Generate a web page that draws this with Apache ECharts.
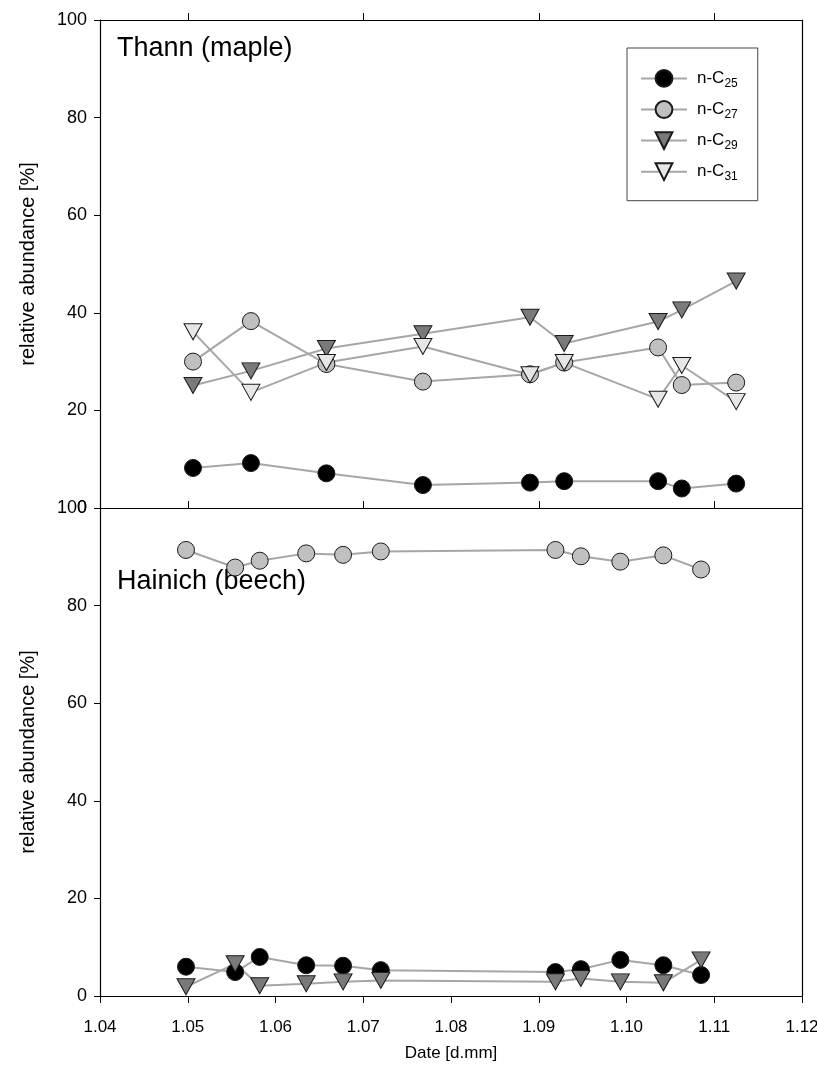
<!DOCTYPE html>
<html>
<head>
<meta charset="utf-8">
<script src="https://cdn.jsdelivr.net/npm/echarts@6/dist/echarts.min.js"></script>
<style>html,body{margin:0;padding:0;background:#fff;}#c{width:817px;height:1077px;}</style>
</head>
<body>
<div id="c"></div>
<script>
// ---- data ----
const seriesNames = ['n-C25', 'n-C27', 'n-C29', 'n-C31'];
const xTicks = [1.04, 1.05, 1.06, 1.07, 1.08, 1.09, 1.10, 1.11, 1.12];
const topMajorTicks = [1.05, 1.07, 1.09, 1.11];
const yTicks = [0, 20, 40, 60, 80, 100];

// Thann (maple)
const xTop   = [1.0506, 1.0572, 1.0658, 1.0768, 1.0890, 1.0929, 1.1036, 1.1063, 1.1125];
const topC25 = [8.2, 9.2, 7.1, 4.7, 5.2, 5.5, 5.5, 4.0, 5.0];
const topC27 = [30.0, 38.3, 29.5, 25.9, 27.4, 29.8, 32.9, 25.2, 25.7];
const topC29 = [25.1, 28.1, 32.7, 35.7, 39.1, 33.7, 38.2, 40.6, 46.5];
const topC31 = [36.1, 23.7, 29.8, 33.1, 27.3, 29.8, 22.3, 29.2, 21.8];

// Hainich (beech)
const xBot   = [1.0498, 1.0554, 1.0582, 1.0635, 1.0677, 1.0720, 1.0919, 1.0948, 1.0993, 1.1042, 1.1085];
const botC25 = [6.0, 4.9, 8.0, 6.3, 6.2, 5.3, 4.9, 5.5, 7.4, 6.3, 4.3];
const botC27 = [91.4, 87.8, 89.2, 90.7, 90.4, 91.1, 91.4, 90.1, 89.0, 90.3, 87.4];
const botC29 = [1.9, 6.6, 2.1, 2.5, 2.9, 3.2, 2.9, 3.6, 2.9, 2.7, 7.4];

// ---- styles ----
const FONT = '"Liberation Sans", Arial, sans-serif';
const LINE = '#a6a6a6';
const styles = {
  'n-C25': { symbol: 'circle', size: 17, rotate: 0, fill: '#000000' },
  'n-C27': { symbol: 'circle', size: 17, rotate: 0, fill: '#c0c0c0' },
  'n-C29': { symbol: 'triangle', size: [18, 16], rotate: 180, fill: '#7a7a7a' },
  'n-C31': { symbol: 'triangle', size: [18, 16], rotate: 180, fill: '#e6e6e6' }
};
function zip(xs, ys) { return xs.map((x, i) => [x, ys[i]]); }
function mk(name, xs, ys, xi, yi) {
  const s = styles[name];
  return {
    name, type: 'line', xAxisIndex: xi, yAxisIndex: yi,
    data: zip(xs, ys),
    symbol: s.symbol, symbolSize: s.size, symbolRotate: s.rotate,
    showAllSymbol: true,
    lineStyle: { color: LINE, width: 2 },
    itemStyle: { color: s.fill, borderColor: '#1a1a1a', borderWidth: 1 },
    emphasis: { disabled: true },
    animation: false
  };
}
const axisLine = { show: true, onZero: false, lineStyle: { color: '#000', width: 1.2 } };
const baseX = { type: 'value', min: 1.04, max: 1.12, splitLine: { show: false }, axisLine };
const baseY = { type: 'value', min: 0, max: 100, interval: 20, splitLine: { show: false }, axisLine };
const yName = {
  name: 'relative abundance [%]', nameLocation: 'middle', nameGap: 62,
  nameTextStyle: { color: '#000', fontSize: 20, fontFamily: FONT }
};
const yLeftTicks = {
  axisTick: { show: true, inside: false, length: 6, lineStyle: { color: '#000' } },
  axisLabel: { show: true, color: '#000', fontSize: 18, margin: 13, fontFamily: FONT }
};

const chart = echarts.init(document.getElementById('c'), null, { renderer: 'canvas' });
chart.setOption({
  backgroundColor: '#fff',
  animation: false,
  textStyle: { fontFamily: FONT },
  grid: [
    { left: 100, right: 15, top: 20, height: 488, outerBoundsMode: 'none', containLabel: false },
    { left: 100, right: 15, top: 508, height: 488, outerBoundsMode: 'none', containLabel: false }
  ],
  xAxis: [
    Object.assign({}, baseX, { gridIndex: 0, position: 'bottom', axisLabel: { show: false },
      axisTick: { show: true, inside: true, length: 7, customValues: topMajorTicks, lineStyle: { color: '#000' } } }),
    Object.assign({}, baseX, { gridIndex: 0, position: 'top', axisLabel: { show: false },
      axisTick: { show: true, inside: false, length: 7, customValues: topMajorTicks, lineStyle: { color: '#000' } } }),
    Object.assign({}, baseX, { gridIndex: 1, position: 'bottom', interval: 0.01,
      axisTick: { show: true, inside: false, length: 7, customValues: xTicks, lineStyle: { color: '#000' } },
      axisLabel: { show: true, customValues: xTicks, formatter: v => v.toFixed(2), color: '#000', fontSize: 17, margin: 23, fontFamily: FONT },
      name: 'Date [d.mm]', nameLocation: 'middle', nameGap: 49,
      nameTextStyle: { color: '#000', fontSize: 17, fontFamily: FONT } }),
    Object.assign({}, baseX, { gridIndex: 1, position: 'top', axisLabel: { show: false }, axisTick: { show: false } })
  ],
  yAxis: [
    Object.assign({}, baseY, { gridIndex: 0, position: 'left' }, yLeftTicks, yName),
    Object.assign({}, baseY, { gridIndex: 0, position: 'right', axisLabel: { show: false }, axisTick: { show: false } }),
    Object.assign({}, baseY, { gridIndex: 1, position: 'left' }, yLeftTicks, yName),
    Object.assign({}, baseY, { gridIndex: 1, position: 'right', axisLabel: { show: false }, axisTick: { show: false } })
  ],
  legend: {
    data: seriesNames,
    orient: 'vertical',
    left: 627, top: 48,
    padding: [21, 20, 18, 13],
    itemGap: 10.7,
    itemWidth: 46, itemHeight: 21,
    borderColor: '#444', borderWidth: 1, backgroundColor: '#fff',
    selectedMode: false,
    lineStyle: { width: 2, color: LINE },
    formatter: n => '{b|n-C}{s|' + n.slice(3) + '}',
    textStyle: {
      fontFamily: FONT, color: '#000',
      rich: {
        b: { fontSize: 17, fontFamily: FONT, color: '#000', padding: [0, 0, 0, 5] },
        s: { fontSize: 12, fontFamily: FONT, color: '#000', verticalAlign: 'bottom', padding: [10, 0, 0, 0] }
      }
    }
  },
  graphic: [
    { type: 'text', left: 117, top: 35, style: { text: 'Thann (maple)', fontSize: 27, fontFamily: FONT, fill: '#000' } },
    { type: 'text', left: 117, top: 568, style: { text: 'Hainich (beech)', fontSize: 27, fontFamily: FONT, fill: '#000' } }
  ],
  series: [
    mk('n-C25', xTop, topC25, 0, 0),
    mk('n-C27', xTop, topC27, 0, 0),
    mk('n-C29', xTop, topC29, 0, 0),
    mk('n-C31', xTop, topC31, 0, 0),
    mk('n-C27', xBot, botC27, 2, 2),
    mk('n-C25', xBot, botC25, 2, 2),
    mk('n-C29', xBot, botC29, 2, 2)
  ]
});
</script>
</body>
</html>
